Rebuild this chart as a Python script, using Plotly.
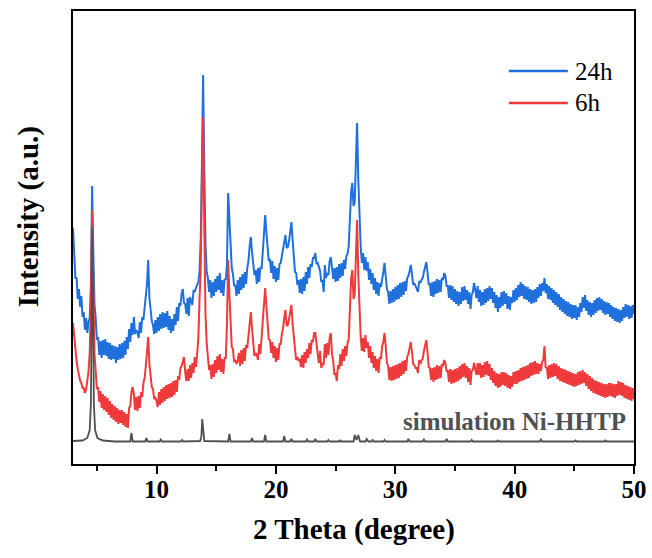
import plotly.graph_objects as go

# XRD scan grid (degrees 2-theta)
two_theta_start = 3.0
two_theta_step = 0.1

# Measured intensity, 24 h sample (a.u., offset for stacking)
intensity_24h = [
    236,
    210, 186, 186, 165, 175, 157, 168, 147, 152, 134,
    146, 131, 142, 146, 178, 278, 212, 160, 146, 124,
    127, 109, 123, 106, 124, 109, 125, 108, 122, 105,
    121, 104, 119, 105, 118, 101, 117, 104, 120, 105,
    121, 106, 123, 109, 127, 115, 135, 122, 141, 129,
    147, 130, 134, 132, 126, 142, 131, 147, 144, 156,
    163, 180, 204, 166, 155, 143, 139, 130, 144, 131,
    147, 133, 150, 135, 152, 136, 151, 137, 153, 134,
    148, 131, 145, 133, 150, 139, 157, 143, 161, 158,
    170, 175, 161, 160, 150, 166, 148, 167, 163, 159,
    174, 172, 176, 180, 182, 192, 225, 300, 389, 295,
    220, 192, 186, 172, 184, 166, 182, 168, 185, 172,
    188, 174, 191, 171, 184, 168, 185, 184, 200, 271,
    240, 210, 196, 190, 178, 179, 168, 184, 170, 187,
    174, 190, 176, 192, 180, 196, 203, 218, 227, 212,
    203, 189, 194, 180, 196, 182, 197, 195, 212, 230,
    249, 232, 214, 203, 205, 191, 203, 185, 198, 182,
    196, 184, 200, 201, 208, 214, 223, 229, 216, 217,
    223, 235, 242, 224, 205, 192, 191, 179, 184, 171,
    185, 170, 187, 173, 192, 180, 197, 186, 200, 197,
    206, 206, 211, 200, 201, 197, 193, 182, 184, 172,
    199, 186, 191, 189, 203, 207, 193, 185, 196, 182,
    197, 183, 200, 186, 201, 188, 204, 195, 208, 210,
    218, 245, 272, 281, 258, 262, 305, 341, 285, 245,
    218, 201, 211, 194, 207, 193, 202, 184, 195, 180,
    191, 174, 186, 170, 182, 168, 181, 177, 188, 192,
    201, 190, 175, 172, 160, 173, 161, 175, 162, 177,
    164, 179, 165, 181, 167, 182, 169, 183, 173, 186,
    188, 193, 199, 190, 179, 181, 178, 177, 172, 183,
    181, 184, 186, 192, 197, 202, 192, 180, 180, 168,
    182, 167, 183, 170, 185, 171, 184, 172, 186, 184,
    191, 188, 178, 178, 166, 179, 164, 178, 162, 175,
    160, 173, 158, 172, 160, 177, 163, 178, 164, 174,
    160, 172, 155, 169, 172, 181, 174, 166, 178, 162,
    174, 158, 172, 159, 175, 161, 176, 163, 178, 165,
    176, 161, 172, 156, 169, 152, 167, 156, 172, 158,
    173, 160, 171, 155, 168, 154, 167, 161, 174, 162,
    176, 164, 179, 167, 182, 168, 180, 165, 178, 164,
    177, 162, 175, 160, 174, 161, 175, 162, 177, 166,
    180, 168, 181, 173, 186, 171, 180, 165, 178, 164,
    176, 161, 174, 159, 172, 157, 170, 154, 167, 152,
    165, 150, 163, 148, 162, 147, 160, 145, 159, 146,
    159, 144, 157, 147, 161, 152, 167, 156, 169, 153,
    164, 149, 162, 147, 161, 149, 164, 151, 166, 153,
    167, 154, 165, 151, 163, 149, 162, 150, 161, 147,
    159, 145, 157, 143, 156, 142, 155, 141, 154, 143,
    157, 146, 160, 147, 159, 145, 158, 146, 159, 150,
]

# Measured intensity, 6 h sample (a.u., offset for stacking)
intensity_6h = [
    141,
    126, 113, 103, 95, 89, 83, 81, 76, 76, 71,
    75, 84, 92, 112, 158, 254, 168, 110, 93, 75,
    77, 62, 73, 56, 70, 54, 68, 52, 66, 49,
    63, 46, 60, 44, 58, 42, 56, 40, 54, 41,
    54, 39, 52, 37, 50, 36, 56, 58, 72, 77,
    70, 54, 67, 53, 68, 56, 72, 67, 81, 86,
    98, 115, 127, 100, 89, 77, 75, 65, 66, 63,
    57, 72, 59, 75, 61, 77, 63, 79, 65, 80,
    66, 81, 67, 83, 69, 84, 72, 88, 84, 96,
    98, 104, 107, 92, 83, 95, 83, 99, 86, 101,
    91, 107, 97, 110, 125, 165, 195, 280, 347, 235,
    150, 121, 110, 94, 99, 85, 100, 87, 104, 91,
    108, 94, 110, 92, 105, 90, 106, 106, 140, 204,
    170, 135, 117, 115, 102, 104, 100, 103, 111, 98,
    114, 100, 116, 103, 119, 116, 128, 142, 152, 135,
    123, 108, 111, 109, 104, 120, 110, 128, 135, 156,
    176, 158, 138, 125, 124, 111, 122, 106, 118, 102,
    116, 104, 120, 120, 130, 136, 146, 154, 138, 139,
    145, 153, 159, 140, 122, 115, 104, 107, 103, 105,
    97, 109, 96, 112, 101, 115, 106, 121, 110, 124,
    122, 131, 131, 116, 110, 101, 113, 96, 100, 99,
    120, 106, 121, 109, 126, 131, 110, 103, 89, 91,
    83, 99, 95, 110, 98, 115, 103, 118, 108, 121,
    125, 155, 185, 194, 165, 170, 215, 244, 190, 150,
    128, 113, 126, 112, 129, 116, 122, 106, 118, 101,
    112, 96, 108, 93, 105, 91, 107, 105, 118, 122,
    131, 118, 101, 98, 84, 97, 83, 98, 84, 99,
    85, 100, 86, 101, 88, 103, 90, 104, 93, 107,
    110, 116, 122, 112, 100, 99, 96, 96, 91, 104,
    100, 104, 105, 113, 119, 124, 112, 97, 96, 84,
    96, 82, 97, 84, 99, 85, 98, 86, 100, 98,
    104, 101, 93, 93, 82, 95, 80, 94, 81, 95,
    82, 96, 83, 98, 85, 100, 87, 101, 86, 98,
    82, 96, 79, 93, 94, 101, 95, 89, 101, 89,
    101, 86, 99, 87, 102, 89, 103, 88, 100, 84,
    96, 81, 93, 78, 91, 76, 90, 77, 92, 79,
    92, 78, 91, 76, 89, 75, 88, 77, 92, 80,
    93, 80, 94, 82, 96, 83, 97, 84, 98, 85,
    99, 86, 101, 88, 102, 89, 103, 90, 101, 90,
    100, 93, 102, 104, 118, 96, 97, 85, 99, 86,
    100, 87, 101, 88, 100, 85, 98, 83, 96, 82,
    95, 81, 94, 80, 93, 79, 92, 78, 91, 77,
    90, 78, 92, 79, 93, 80, 94, 81, 92, 78,
    90, 75, 88, 73, 86, 71, 84, 70, 83, 69,
    82, 68, 81, 67, 80, 66, 80, 67, 81, 68,
    81, 67, 80, 66, 80, 68, 83, 69, 82, 68,
    81, 66, 79, 65, 78, 64, 77, 63, 76, 65,
]

# Simulated pattern of Ni-HHTP
sim_two_theta = [
    3.0, 3.8, 4.2, 4.4, 4.5, 4.57, 4.62, 4.68, 4.75, 4.85, 5.05, 5.5, 6.5,
    7.8, 7.9, 8.0, 9.05, 9.15, 9.25, 10.25, 10.35, 10.45, 12.05, 12.15, 12.25,
    13.65, 13.75, 13.83, 13.92, 14.0, 16.0, 16.1, 16.2, 17.9, 18.0, 18.1,
    19.0, 19.1, 19.2, 20.6, 20.7, 20.8, 21.2, 21.3, 21.4, 22.5, 22.6, 22.7,
    23.2, 23.3, 23.4, 24.3, 24.4, 24.5, 25.3, 25.4, 25.5,
    26.5, 26.6, 26.75, 26.9, 27.05, 27.5, 27.6, 27.75, 28.0, 28.1, 28.2,
    29.0, 29.1, 29.2, 31.0, 31.1, 31.2, 32.3, 32.4, 32.5, 34.2, 34.3, 34.4,
    36.3, 36.4, 36.5, 38.5, 38.6, 38.7, 42.1, 42.2, 42.3, 45.0, 45.1, 45.2,
    47.5, 47.6, 47.7, 50.0,
]
sim_intensity = [
    23, 23.5, 26, 34, 60, 150, 236, 150, 60, 34, 26, 23.5, 22.5,
    22.5, 31, 22.5, 22.5, 26, 22.5, 22.5, 24.5, 22.5, 22.5, 24, 22.5,
    23, 27, 45, 27, 23, 22.5, 30, 22.5, 22.5, 26, 22.5,
    22.5, 29, 22.5, 22.5, 28, 22.5, 22.5, 25, 22.5, 22.5, 24.5, 22.5,
    22.5, 25, 22.5, 22.5, 24, 22.5, 22.5, 23.5, 22.5,
    22.5, 29, 24, 29, 22.5, 22.5, 25, 22.5, 22.5, 24, 22.5,
    22.5, 24, 22.5, 22.5, 25, 22.5, 22.5, 24.5, 22.5, 22.5, 25, 22.5,
    22.5, 24, 22.5, 22.5, 23.5, 22.5, 22.5, 24.5, 22.5, 22.5, 23.5, 22.5,
    22.5, 23.5, 22.5, 22.5,
]

series_names = ["24h", "6h"]
sim_label = "simulation Ni-HHTP"
x_tick_values = [10, 20, 30, 40, 50]
x_title = "2 Theta (degree)"
y_title = "Intensity (a.u.)"

BLUE = "#1f6fdc"
RED = "#f0393b"
GRAY = "#505050"
SERIF = "Liberation Serif, Times New Roman, serif"


def scan_axis(values):
    return [round(two_theta_start + two_theta_step * i, 2) for i in range(len(values))]


fig = go.Figure()
fig.add_trace(go.Scatter(
    x=scan_axis(intensity_24h), y=intensity_24h, mode="lines", name=series_names[0],
    line=dict(color=BLUE, width=2), showlegend=False,
))
fig.add_trace(go.Scatter(
    x=scan_axis(intensity_6h), y=intensity_6h, mode="lines", name=series_names[1],
    line=dict(color=RED, width=2), showlegend=False,
))
fig.add_trace(go.Scatter(
    x=sim_two_theta, y=sim_intensity, mode="lines", name=sim_label,
    line=dict(color=GRAY, width=1.8), showlegend=False,
))

# Hand-placed legend (long line samples)
legend_rows = [(series_names[0], BLUE, 0.8675), (series_names[1], RED, 0.797)]
shapes = []
annotations = []
for name, color, yy in legend_rows:
    shapes.append(dict(type="line", xref="paper", yref="paper", x0=0.777, x1=0.882,
                       y0=yy, y1=yy, line=dict(color=color, width=2.5)))
    annotations.append(dict(xref="paper", yref="paper", x=0.891, y=yy, text=name,
                            showarrow=False, xanchor="left", yanchor="middle",
                            font=dict(family=SERIF, size=25, color="black")))

annotations.append(dict(xref="paper", yref="paper", x=0.989, y=0.093, text=sim_label,
                        showarrow=False, xanchor="right", yanchor="middle",
                        font=dict(family=SERIF, size=25, color=GRAY, weight="bold")))
annotations.append(dict(xref="paper", yref="paper", x=0.5, y=-0.1435, text=x_title,
                        showarrow=False, xanchor="center", yanchor="middle",
                        font=dict(family=SERIF, size=29, color="black", weight="bold")))
annotations.append(dict(xref="paper", yref="paper", x=-0.08, y=0.545, text=y_title,
                        showarrow=False, xanchor="center", yanchor="middle", textangle=-90,
                        font=dict(family=SERIF, size=29, color="black", weight="bold")))

fig.update_layout(
    width=652, height=558,
    margin=dict(l=73, r=18, t=11, b=94, autoexpand=False),
    paper_bgcolor="white", plot_bgcolor="white",
    shapes=shapes, annotations=annotations,
    xaxis=dict(
        range=[3, 50], tickvals=x_tick_values, ticks="outside", ticklen=8, tickwidth=1.5,
        tickcolor="black", showline=True, mirror=True, linecolor="black", linewidth=1.5,
        showgrid=False, zeroline=False, automargin=False, ticklabelstandoff=-6,
        minor=dict(ticks="outside", ticklen=5, tickwidth=1.5, tickcolor="black", dtick=5, tick0=0),
        tickfont=dict(family=SERIF, size=25, color="black", weight="bold"),
    ),
    yaxis=dict(
        range=[0, 453], showticklabels=False, ticks="", showline=True, mirror=True,
        linecolor="black", linewidth=1.5, showgrid=False, zeroline=False, automargin=False,
    ),
)

fig.write_html("out.html")
